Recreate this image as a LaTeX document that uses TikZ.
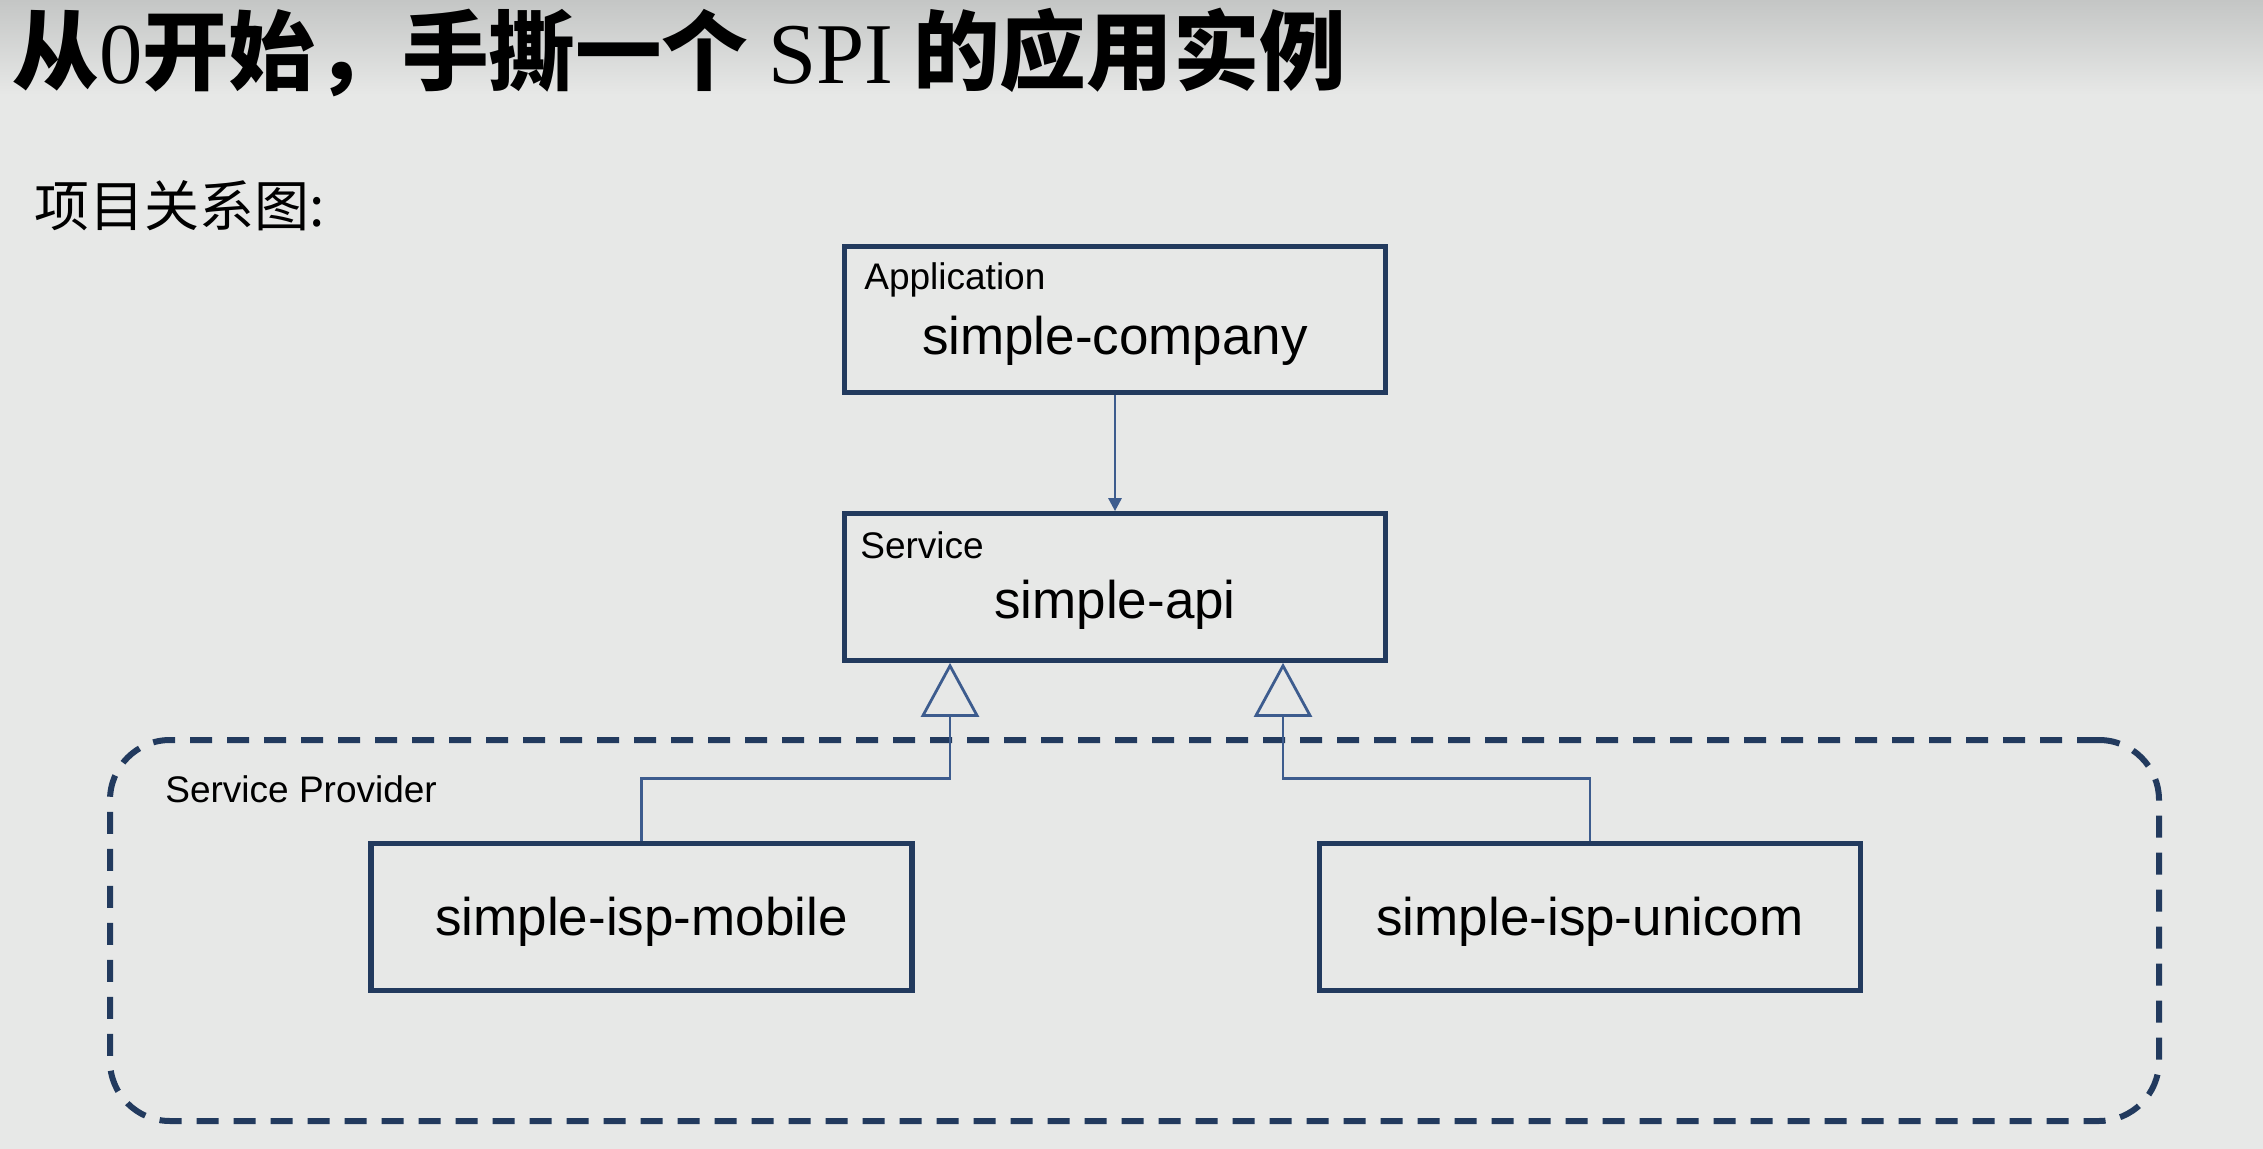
\documentclass[tikz,border=0pt]{standalone}
\usepackage{fontspec}
\setmainfont{Liberation Sans}
\newfontfamily\cjk{Noto Sans CJK SC}
\newfontfamily\serifx{Liberation Serif}
\usetikzlibrary{positioning}
\usetikzlibrary{arrows.meta}

\definecolor{pagebg}{HTML}{E7E8E7}
\definecolor{pagetop}{HTML}{C4C6C5}
\definecolor{boxline}{HTML}{223A5E}
\definecolor{linkline}{HTML}{3D5C8E}

\begin{document}
\begin{tikzpicture}[x=0.5pt,y=-0.5pt,
	box/.style={rectangle,draw=boxline,line width=2.6pt,minimum width=270.5pt,
		minimum height=73.25pt,inner sep=0pt},
	boxname/.style={font=\fontsize{26.5}{30}\selectfont,inner sep=0pt,anchor=base},
	boxtag/.style={font=\fontsize{18.5}{21}\selectfont,anchor=base west,inner sep=0pt},
	group/.style={rectangle,draw=boxline,line width=3pt,dash pattern=on 11pt off 7.5pt,
		rounded corners=30pt,inner sep=0pt},
	uses/.style={draw=linkline,line width=1.4pt,-{Triangle[width=6.5pt,length=6.5pt]}},
	realizes/.style={draw=linkline,line width=1.4pt,
		-{Triangle[open,width=29pt,length=27pt]}}]
	
	% page
	\fill[pagebg] (0,0) rectangle (2263,1149);
	\shade[top color=pagetop,bottom color=pagebg] (0,0) rectangle (2263,95);
	\useasboundingbox (0,0) rectangle (2263,1149);
	
	\node[anchor=west,inner sep=0pt,font=\cjk\bfseries\fontsize{43.3}{44}\selectfont] (title) at (12,53)
	{从{\serifx\mdseries 0}开始，手撕一个 {\serifx\mdseries SPI} 的应用实例};
	\node[anchor=west,inner sep=0pt,font=\cjk\fontsize{27.5}{28}\selectfont] (subtitle) at (34,206) {项目关系图:};
	
	% service provider group
	\node[group,minimum width=1024.5pt,minimum height=190.5pt] (provider) at (1134.5,930.5) {};
	\node[boxtag] (providertag) at ([xshift=-484.75pt,yshift=64.25pt]provider.center) {Service Provider};
	
	\node[box] (company) at (1115,319.5) {};
	\node[box] (api) [below=57.9pt of company] {};
	\node[box] (mobile) [below=89.15pt of api,xshift=-236.75pt] {};
	\node[box] (unicom) [right=201.15pt of mobile] {};
	
	\node[boxtag] (companytag) at ([xshift=-125.5pt,yshift=14.75pt]company.center) {Application};
	\node[boxtag] (apitag) at ([xshift=-127.5pt,yshift=14pt]api.center) {Service};
	\node[boxname] (companyname) at ([yshift=-17.75pt]company.center) {simple-company};
	\node[boxname] (apiname) at ([yshift=-15.65pt]api.center) {simple-api};
	\node[boxname] (mobilename) at ([yshift=-9.35pt]mobile.center) {simple-isp-mobile};
	\node[boxname] (unicomname) at ([yshift=-9.35pt]unicom.center) {simple-isp-unicom};
	
	\draw[uses] (company) -- (api);
	\draw[realizes] (mobile.north) |- ([xshift=-82.5pt,yshift=-57.8pt]api.south) -- ([xshift=-82.5pt]api.south);
	\draw[realizes] (unicom.north) |- ([xshift=84pt,yshift=-57.8pt]api.south) -- ([xshift=84pt]api.south);
\end{tikzpicture}
\end{document}
